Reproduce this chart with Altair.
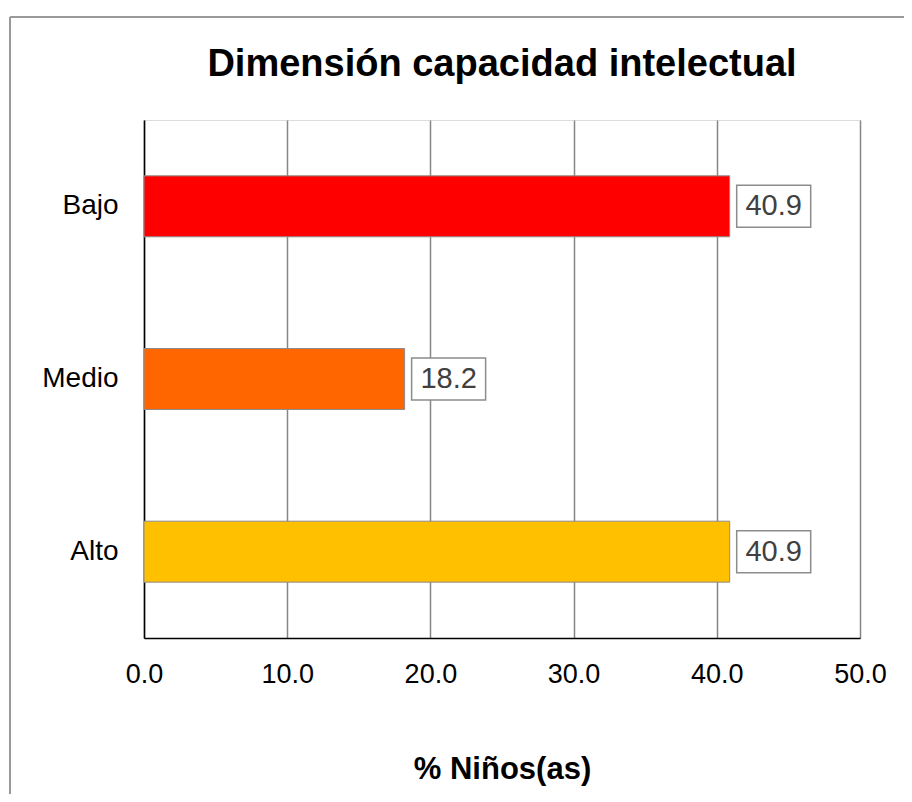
import altair as alt
import pandas as pd

categories = ["Bajo", "Medio", "Alto"]
values = [40.9, 18.2, 40.9]
colors = ["#FF0000", "#FF6600", "#FFC000"]
x_ticks = [0, 10, 20, 30, 40, 50]

df = pd.DataFrame({"cat": categories, "val": values})
FONT = "Liberation Sans"

y_enc = alt.Y("cat:N", sort=categories, title=None,
              scale=alt.Scale(paddingInner=0.647, paddingOuter=0.3235),
              axis=alt.Axis(labelFontSize=28, labelColor="#000000", labelFont=FONT,
                            labelPadding=26, ticks=False, domain=True,
                            domainColor="#000000", domainWidth=1.5, grid=False))

x_enc = alt.X("val:Q", title="% Niños(as)",
              scale=alt.Scale(domain=[0, 50], nice=False),
              axis=alt.Axis(values=x_ticks, format=".1f", labelFontSize=27,
                            labelColor="#000000", labelFont=FONT, labelPadding=23,
                            labelFlush=False,
                            ticks=False, domainColor="#000000", domainWidth=1.5,
                            grid=True, gridColor="#868686", gridWidth=1.5,
                            titleFontSize=31, titleFont=FONT, titleFontWeight="bold",
                            titleColor="#000000", titlePadding=67))

bars = alt.Chart(df).mark_bar(stroke="#8C8C8C", strokeWidth=1).encode(
    x=x_enc,
    y=y_enc,
    color=alt.Color("cat:N", scale=alt.Scale(domain=categories, range=colors), legend=None),
)

boxes = alt.Chart(df).mark_bar(height=42, fill="white", stroke="#8C8C8C", strokeWidth=1.5,
                               xOffset=7, x2Offset=81).encode(
    x="val:Q", x2="val:Q", y=alt.Y("cat:N", sort=categories)
)

texts = alt.Chart(df).mark_text(dx=44, align="center", baseline="middle", fontSize=29,
                                font=FONT, color="#404040").encode(
    x="val:Q", y=alt.Y("cat:N", sort=categories), text=alt.Text("val:Q", format=".1f")
)

frame_data = alt.Data(values=[{"a": 1}])
frame_left = alt.Chart(frame_data).mark_rule(color="#999999", strokeWidth=2).encode(
    x=alt.value(-134), y=alt.value(-103), y2=alt.value(800))
frame_top = alt.Chart(frame_data).mark_rule(color="#999999", strokeWidth=2).encode(
    x=alt.value(-134), x2=alt.value(900), y=alt.value(-103))

chart = alt.layer(bars, boxes, texts, frame_left, frame_top).properties(
    width=716, height=518,
    title=alt.TitleParams("Dimensión capacidad intelectual", fontSize=38, font=FONT,
                          fontWeight="bold", color="#000000", anchor="middle",
                          frame="group", offset=0, dy=68),
    autosize=alt.AutoSizeParams(type="none"),
    padding={"left": 136, "top": 112, "right": 44, "bottom": 156},
).configure_view(stroke="#666666", strokeWidth=1.5).configure(background="white")

chart.save("out.html", embed_options={"renderer": "svg", "actions": False})
